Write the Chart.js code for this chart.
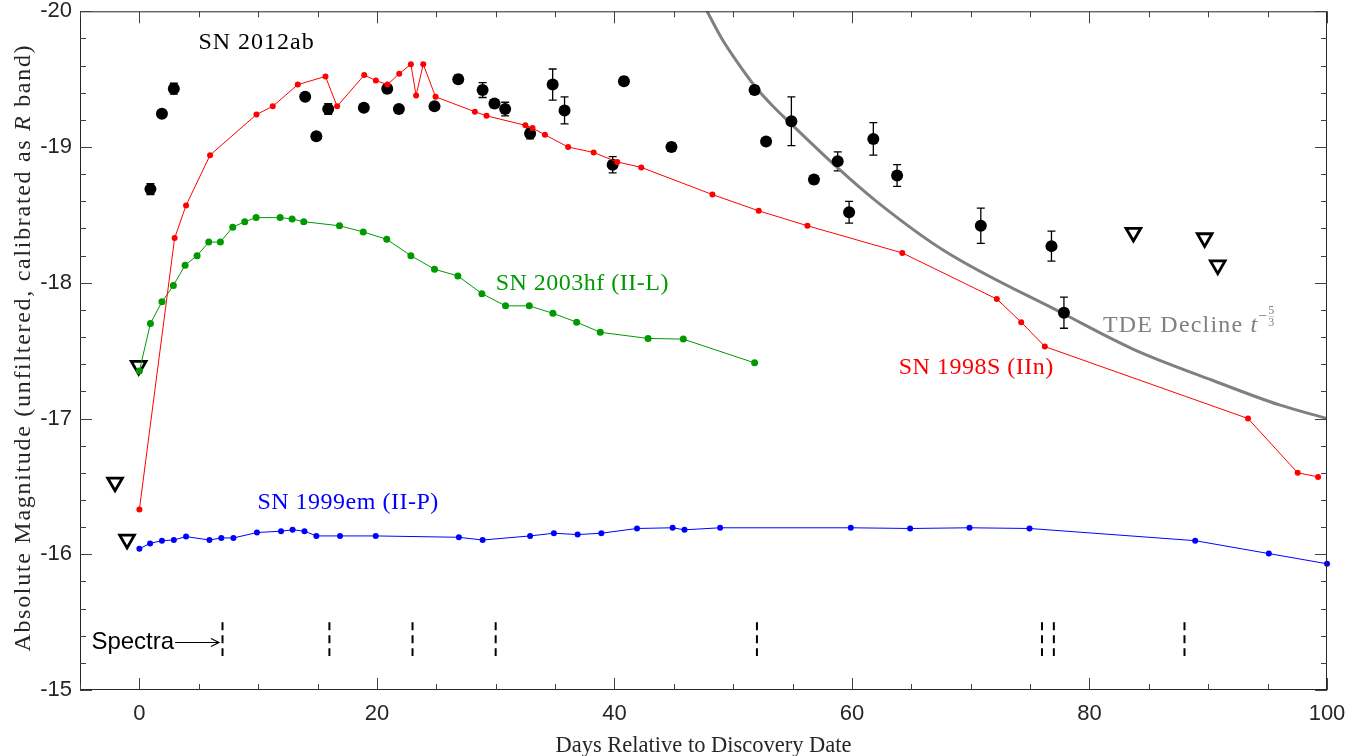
<!DOCTYPE html>
<html lang="en">
<head>
<meta charset="UTF-8">
<title>SN 2012ab light curve</title>
<script src="https://cdn.jsdelivr.net/npm/chart.js"></script>
<style>
body{margin:0;background:#fff;}
</style>
</head>
<body>
<canvas id="lc" width="1359" height="756"></canvas>
<script>
// axis ticks
const xTicks = [0, 20, 40, 60, 80, 100];
const xTickLabels = ['0', '20', '40', '60', '80', '100'];
const yTicks = [-20, -19, -18, -17, -16, -15];
const yTickLabels = ['-20', '-19', '-18', '-17', '-16', '-15'];

// SN 2012ab detections (black) with error bars
const sn2012abDays = [0.93, 1.9, 2.9, 13.96, 14.9, 15.9, 18.9, 20.87, 21.85, 24.85, 26.85, 28.9, 29.9, 30.8, 32.9, 34.8, 35.8, 39.85, 40.8, 44.8, 51.8, 52.77, 54.9, 56.8, 58.8, 59.76, 61.8, 63.8, 70.85, 76.8, 77.85];
const sn2012abMag  = [-18.69, -19.245, -19.43, -19.37, -19.08, -19.28, -19.29, -19.43, -19.28, -19.30, -19.50, -19.42, -19.32, -19.28, -19.10, -19.46, -19.27, -18.87, -19.485, -19.0, -19.42, -19.04, -19.19, -18.76, -18.895, -18.52, -19.06, -18.79, -18.42, -18.27, -17.78];
const sn2012abErr  = [0.04, 0.02, 0.04, 0.02, 0.02, 0.04, 0.02, 0.03, 0.02, 0.02, 0.03, 0.055, 0.03, 0.05, 0.04, 0.115, 0.10, 0.06, 0.03, 0.03, 0.03, 0.02, 0.18, 0.03, 0.07, 0.08, 0.12, 0.08, 0.13, 0.11, 0.115];

// SN 2012ab upper limits (open triangles)
const limitDays = [-2.05, -1.04, -0.06, 83.7, 89.7, 90.8];
const limitMag  = [-16.53, -16.11, -17.39, -18.37, -18.33, -18.13];

// comparison light curves
const sn1998sDays = [0, 2.97, 3.93, 5.95, 9.86, 11.23, 13.34, 15.67, 16.65, 18.93, 19.91, 20.89, 21.88, 22.86, 23.3, 23.9, 24.94, 28.25, 29.23, 32.5, 33.1, 34.15, 36.1, 38.25, 40.24, 42.26, 48.25, 52.15, 56.25, 64.24, 72.2, 74.25, 76.24, 93.35, 97.53, 99.25];
const sn1998sMag  = [-16.33, -18.33, -18.57, -18.94, -19.24, -19.30, -19.46, -19.52, -19.30, -19.53, -19.49, -19.46, -19.54, -19.61, -19.38, -19.61, -19.37, -19.26, -19.23, -19.16, -19.14, -19.09, -19.0, -18.96, -18.89, -18.85, -18.65, -18.53, -18.42, -18.22, -17.88, -17.71, -17.53, -17.0, -16.60, -16.57];

const sn2003hfDays = [0, 0.93, 1.9, 2.86, 3.85, 4.86, 5.84, 6.82, 7.86, 8.87, 9.83, 11.85, 12.86, 13.84, 16.85, 18.85, 20.83, 22.86, 24.85, 26.82, 28.84, 30.83, 32.83, 34.82, 36.82, 38.81, 42.83, 45.8, 51.8];
const sn2003hfMag  = [-17.35, -17.70, -17.86, -17.98, -18.13, -18.20, -18.30, -18.30, -18.41, -18.45, -18.48, -18.48, -18.47, -18.45, -18.42, -18.375, -18.32, -18.20, -18.10, -18.05, -17.92, -17.83, -17.83, -17.775, -17.71, -17.635, -17.59, -17.585, -17.41];

const sn1999emDays = [0, 0.9, 1.9, 2.9, 3.93, 5.9, 6.9, 7.92, 9.9, 11.93, 12.9, 13.9, 14.9, 16.9, 19.9, 26.9, 28.9, 32.9, 34.9, 36.9, 38.9, 41.9, 44.9, 45.9, 48.9, 59.9, 64.9, 69.9, 74.95, 88.9, 95.1, 100];
const sn1999emMag  = [-16.04, -16.08, -16.10, -16.105, -16.13, -16.105, -16.12, -16.12, -16.16, -16.17, -16.18, -16.17, -16.135, -16.135, -16.135, -16.125, -16.105, -16.135, -16.155, -16.145, -16.155, -16.19, -16.195, -16.18, -16.195, -16.195, -16.19, -16.195, -16.19, -16.10, -16.005, -15.93];

// TDE decline curve
const tdeDays = [47.8, 49.1, 50.55, 51.9, 53.35, 54.76, 58.75, 62.06, 67.7, 77.85, 83.7, 90.4, 96.0, 100];
const tdeMag  = [-20.0, -19.79, -19.60, -19.44, -19.30, -19.18, -18.85, -18.60, -18.24, -17.77, -17.51, -17.28, -17.10, -17.0];

// spectra epochs
const spectraDays = [7, 16, 23, 30, 52, 76, 77, 88];
const spectraRange = [-15.5, -15.25];

const pts = (xs, ys) => xs.map((v, i) => ({x: v, y: ys[i]}));
const spectraPts = spectraDays.flatMap(d => [{x: d, y: spectraRange[0]}, {x: d, y: spectraRange[1]}, {x: d, y: null}]);

const serif = '"Liberation Serif", "Times New Roman", serif';
const sans = '"Liberation Sans", Arial, sans-serif';

function txt(ctx, s, x, y, color, font, ls) {
    ctx.font = font;
    ctx.fillStyle = color;
    ctx.letterSpacing = (ls || 0) + 'px';
    ctx.fillText(s, x, y);
    return ctx.measureText(s).width;
}

const extras = {
    id: 'extras',
    beforeDatasetsDraw(chart) {
        const {ctx, scales: {x, y}} = chart;
        ctx.save();
        ctx.strokeStyle = '#000';
        ctx.lineWidth = 1.3;
        sn2012abDays.forEach((d, i) => {
            const e = sn2012abErr[i];
            const px = x.getPixelForValue(d);
            const y1 = y.getPixelForValue(sn2012abMag[i] - e);
            const y2 = y.getPixelForValue(sn2012abMag[i] + e);
            ctx.beginPath();
            ctx.moveTo(px, y1); ctx.lineTo(px, y2);
            ctx.moveTo(px - 4, y1); ctx.lineTo(px + 4, y1);
            ctx.moveTo(px - 4, y2); ctx.lineTo(px + 4, y2);
            ctx.stroke();
        });
        ctx.restore();
    },
    afterDraw(chart) {
        const {ctx, chartArea: a, scales: {x, y}} = chart;
        ctx.save();

        // frame
        ctx.strokeStyle = '#262626';
        ctx.lineWidth = 1;
        ctx.strokeRect(a.left + 0.5, a.top + 0.5, a.right - a.left - 1, a.bottom - a.top - 1);

        // inward ticks on all four sides
        ctx.strokeStyle = '#404040';
        ctx.beginPath();
        for (let v = -5; v <= 100; v += 5) {
            const px = Math.round(x.getPixelForValue(v)) + 0.5;
            const len = xTicks.includes(v) ? 12 : 6;
            ctx.moveTo(px, a.bottom); ctx.lineTo(px, a.bottom - len);
            ctx.moveTo(px, a.top); ctx.lineTo(px, a.top + len);
        }
        for (let k = 0; k <= 25; k++) {
            const v = -20 + k * 0.2;
            const py = Math.round(y.getPixelForValue(v)) + 0.5;
            const len = k % 5 === 0 ? 12 : 6;
            ctx.moveTo(a.left, py); ctx.lineTo(a.left + len, py);
            ctx.moveTo(a.right, py); ctx.lineTo(a.right - len, py);
        }
        ctx.stroke();

        // curve labels
        ctx.textBaseline = 'middle';
        ctx.textAlign = 'left';
        const lf = '24px ' + serif;
        txt(ctx, 'SN 2012ab', x.getPixelForValue(4.97), y.getPixelForValue(-19.765), '#000', lf, 1);
        txt(ctx, 'SN 2003hf (II-L)', x.getPixelForValue(30.0), y.getPixelForValue(-17.99), '#009900', lf, 0.5);
        txt(ctx, 'SN 1998S (IIn)', x.getPixelForValue(63.94), y.getPixelForValue(-17.375), '#ff0000', lf, 0.5);
        txt(ctx, 'SN 1999em (II-P)', x.getPixelForValue(9.94), y.getPixelForValue(-16.38), '#0000ff', lf, 0.5);

        // TDE label with t^(-5/3)
        ctx.textBaseline = 'alphabetic';
        let tx = x.getPixelForValue(81.13);
        const tb = y.getPixelForValue(-17.70) + 8;
        const grey = '#808080';
        tx += txt(ctx, 'TDE Decline ', tx, tb, grey, lf, 1.2);
        tx += txt(ctx, 't', tx, tb, grey, 'italic 24px ' + serif, 0);
        ctx.textBaseline = 'middle';
        tx += txt(ctx, '\u2212', tx + 1, tb - 15, grey, '16px ' + serif, 0) + 2;
        ctx.textAlign = 'center';
        txt(ctx, '5', tx + 3, tb - 21, grey, '12px ' + serif, 0);
        txt(ctx, '3', tx + 3, tb - 9, grey, '12px ' + serif, 0);
        ctx.strokeStyle = '#b0b0b0';
        ctx.lineWidth = 0.6;
        ctx.beginPath(); ctx.moveTo(tx, tb - 15); ctx.lineTo(tx + 6, tb - 15); ctx.stroke();

        // Spectra marker text and arrow
        ctx.textAlign = 'left';
        const sy = y.getPixelForValue(-15.35);
        const sx = x.getPixelForValue(-4.04);
        const sw = txt(ctx, 'Spectra', sx, sy, '#000', '24px ' + sans, 0);
        const ax0 = sx + sw + 1, ax1 = x.getPixelForValue(6.7);
        ctx.strokeStyle = '#000';
        ctx.lineWidth = 1.2;
        ctx.beginPath();
        ctx.moveTo(ax0, sy); ctx.lineTo(ax1, sy);
        ctx.moveTo(ax1 - 8, sy - 4); ctx.lineTo(ax1, sy); ctx.lineTo(ax1 - 8, sy + 4);
        ctx.stroke();

        // axis titles
        ctx.textAlign = 'center';
        ctx.textBaseline = 'alphabetic';
        txt(ctx, 'Days Relative to Discovery Date', (a.left + a.right) / 2, 752, '#262626', '22.5px ' + serif, 0);

        ctx.translate(30, (a.top + a.bottom) / 2 - 3);
        ctx.rotate(-Math.PI / 2);
        ctx.textAlign = 'left';
        const parts = [['Absolute Magnitude (unfiltered, calibrated as ', ''], ['R', 'italic '], [' band)', '']];
        const ls = 1.7;
        let total = 0;
        parts.forEach(p => { ctx.font = p[1] + '24px ' + serif; ctx.letterSpacing = ls + 'px'; total += ctx.measureText(p[0]).width; });
        let cx = -total / 2;
        parts.forEach(p => { cx += txt(ctx, p[0], cx, 0, '#262626', p[1] + '24px ' + serif, ls); });
        ctx.restore();
    }
};

new Chart(document.getElementById('lc'), {
    type: 'scatter',
    data: {
        datasets: [
            {label: 'SN 1998S (IIn)', data: pts(sn1998sDays, sn1998sMag), showLine: true, borderColor: '#ff0000', borderWidth: 1,
             pointRadius: 3, pointBackgroundColor: '#ff0000', pointBorderWidth: 0, clip: false},
            {label: 'SN 2003hf (II-L)', data: pts(sn2003hfDays, sn2003hfMag), showLine: true, borderColor: '#009900', borderWidth: 1,
             pointRadius: 3.5, pointBackgroundColor: '#009900', pointBorderWidth: 0},
            {label: 'SN 1999em (II-P)', data: pts(sn1999emDays, sn1999emMag), showLine: true, borderColor: '#0000ff', borderWidth: 1,
             pointRadius: 3, pointBackgroundColor: '#0000ff', pointBorderWidth: 0, clip: false},
            {label: 'SN 2012ab', data: pts(sn2012abDays, sn2012abMag), pointRadius: 6, pointBackgroundColor: '#000', pointBorderWidth: 0},
            {label: 'TDE', data: pts(tdeDays, tdeMag), showLine: true, borderColor: '#808080', borderWidth: 3, pointRadius: 0,
             cubicInterpolationMode: 'monotone'},
            {label: 'limits', data: pts(limitDays, limitMag), pointStyle: 'triangle', rotation: 180, pointRadius: 8.5,
             pointBackgroundColor: '#fff', pointBorderColor: '#000', pointBorderWidth: 2.8},
            {label: 'spectra', data: spectraPts, showLine: true, borderColor: '#000', borderWidth: 2, borderDash: [8, 5], pointRadius: 0}
        ]
    },
    options: {
        responsive: false,
        animation: false,
        devicePixelRatio: 1,
        layout: {padding: {top: 10, right: 32, left: 0, bottom: 0}},
        plugins: {legend: {display: false}, tooltip: {enabled: false}},
        scales: {
            x: {
                type: 'linear', min: -5, max: 100,
                afterBuildTicks: s => { s.ticks = xTicks.map(v => ({value: v})); },
                afterFit: s => { s.height = 66; s.paddingLeft = 0; s.paddingRight = 0; },
                grid: {display: false, drawTicks: false},
                border: {display: false},
                ticks: {padding: 11, color: '#262626', font: {family: sans, size: 22},
                        callback: v => xTickLabels[xTicks.indexOf(v)]}
            },
            y: {
                type: 'linear', min: -20, max: -15, reverse: true,
                afterBuildTicks: s => { s.ticks = yTicks.map(v => ({value: v})); },
                afterFit: s => { s.width = 80; s.paddingTop = 0; s.paddingBottom = 0; },
                grid: {display: false, drawTicks: false},
                border: {display: false},
                ticks: {padding: 8, color: '#262626', font: {family: sans, size: 22},
                        callback: v => yTickLabels[yTicks.indexOf(v)]}
            }
        }
    },
    plugins: [extras]
});
</script>
</body>
</html>
